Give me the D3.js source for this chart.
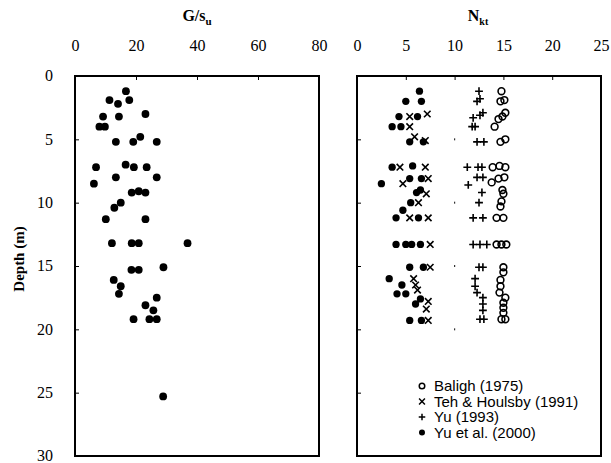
<!DOCTYPE html>
<html>
<head>
<meta charset="utf-8">
<script src="https://cdn.jsdelivr.net/npm/d3@7"></script>
<style>
  html, body { margin: 0; padding: 0; background: #fff; }
  svg { display: block; }
  .tick text { font-family: "Liberation Serif", "Times New Roman", serif; font-size: 16px; fill: #000; }
</style>
</head>
<body>
<svg id="chart" width="611" height="463"></svg>
<script>
// Shear modulus ratio G/su against depth: [G/su, depth (m)]
const gsuPoints = [
  [16.7, 1.2], [11.3, 1.9], [14.1, 2.2], [17.8, 1.9], [23.1, 3.0], [9.2, 3.2], [14.4, 3.2],
  [9.8, 4.0], [8.0, 4.0], [13.4, 5.2], [19.1, 5.2], [21.4, 4.8], [26.8, 5.2],
  [6.9, 7.2], [16.6, 7.0], [19.3, 7.2], [23.5, 7.2], [13.4, 8.0], [26.8, 8.0], [6.2, 8.5],
  [18.6, 9.2], [23.1, 9.2], [20.9, 9.1], [15.0, 10.0], [12.9, 10.4], [10.1, 11.3], [23.1, 11.3],
  [12.1, 13.2], [20.9, 13.2], [18.6, 13.2], [36.9, 13.2],
  [18.5, 15.3], [20.9, 15.3], [29.0, 15.1], [12.7, 16.1], [15.0, 16.6], [14.4, 17.2],
  [26.8, 17.5], [23.1, 18.1], [25.7, 18.5], [19.2, 19.2], [24.4, 19.2], [26.8, 19.2],
  [28.9, 25.3]
];

// Cone factor Nkt against depth: [Nkt, depth (m)]
const baligh1975 = [
  [14.8, 1.2], [14.7, 2.0], [15.1, 1.9], [14.5, 3.4], [14.9, 3.2], [15.2, 2.9], [14.1, 4.0],
  [14.7, 5.2], [15.2, 5.0], [13.9, 7.2], [14.6, 7.1], [15.2, 7.2], [13.8, 8.4], [14.5, 8.1],
  [15.1, 8.0], [14.9, 9.0], [15.0, 9.3], [14.8, 9.9], [14.7, 10.3], [14.3, 11.2], [15.0, 11.2],
  [14.3, 13.3], [14.8, 13.3], [15.3, 13.3], [15.0, 15.1], [15.0, 15.5], [14.7, 16.1],
  [14.7, 16.6], [14.6, 17.1], [15.2, 17.5], [15.0, 17.9], [15.0, 18.3], [15.0, 18.7],
  [14.8, 19.2], [15.2, 19.2]
];
const tehHoulsby1991 = [
  [5.4, 3.2], [7.2, 3.0], [5.4, 4.0], [5.9, 4.8], [7.0, 5.1], [4.4, 7.2], [7.0, 7.2],
  [4.7, 8.5], [7.3, 8.1], [7.1, 9.3], [6.3, 10.0], [5.4, 11.2], [7.3, 11.2], [7.5, 13.3],
  [7.5, 15.1], [5.8, 16.0], [6.0, 16.5], [6.2, 16.9], [7.3, 17.8], [7.1, 18.4], [7.3, 19.3]
];
const yu1993 = [
  [12.5, 1.2], [12.3, 2.0], [12.6, 1.8], [11.9, 3.3], [12.6, 3.1], [12.9, 2.9], [11.8, 4.0],
  [12.1, 4.0], [12.3, 5.2], [13.0, 5.2], [11.3, 7.2], [12.4, 7.2], [12.8, 7.2], [11.4, 8.6],
  [12.3, 8.0], [12.9, 8.0], [12.8, 9.2], [12.5, 10.0], [11.9, 11.2], [12.9, 11.2],
  [11.9, 13.3], [12.6, 13.3], [13.3, 13.3], [12.5, 15.1], [12.9, 15.1], [12.1, 16.0],
  [12.1, 16.6], [12.3, 17.1], [12.9, 17.5], [12.9, 18.0], [12.9, 18.5], [12.6, 19.2], [13.0, 19.2]
];
const yuEtAl2000 = [
  [6.4, 1.2], [5.0, 2.0], [6.6, 2.0], [4.3, 3.2], [6.2, 3.2], [3.6, 4.0], [4.5, 4.0],
  [5.4, 5.2], [6.8, 5.2], [3.6, 7.2], [5.7, 7.1], [2.5, 8.5], [5.4, 8.1], [6.6, 8.1],
  [6.5, 9.0], [6.1, 9.2], [5.5, 10.0], [4.7, 10.6], [4.0, 11.2], [6.3, 11.2],
  [4.0, 13.3], [5.0, 13.3], [5.6, 13.3], [6.5, 13.3], [5.4, 15.1], [6.8, 15.1],
  [3.3, 16.0], [4.6, 16.5], [4.1, 17.2], [5.0, 17.2], [6.5, 17.6], [6.0, 18.0],
  [5.4, 19.3], [6.6, 19.3]
];

const gsuTicks = [0, 20, 40, 60, 80];
const nktTicks = [0, 5, 10, 15, 20, 25];
const depthTicks = [0, 5, 10, 15, 20, 25, 30];
const legendLabels = ["Baligh (1975)", "Teh & Houlsby (1991)", "Yu (1993)", "Yu et al. (2000)"];

const svg = d3.select("#chart");
const plotTop = 76, plotBottom = 456;

const y = d3.scaleLinear().domain([0, 30]).range([plotTop, plotBottom]);
const xG = d3.scaleLinear().domain([0, 80]).range([75, 319]);
const xN = d3.scaleLinear().domain([0, 25]).range([357, 601]);

function frame(x) {
  svg.append("rect")
    .attr("x", x.range()[0]).attr("y", plotTop)
    .attr("width", x.range()[1] - x.range()[0]).attr("height", plotBottom - plotTop)
    .attr("fill", "none").attr("stroke", "#000").attr("stroke-width", 2);
}

function topAxis(x, ticks) {
  const g = svg.append("g").attr("transform", `translate(0,${plotTop})`)
    .call(d3.axisTop(x).tickValues(ticks).tickSizeInner(-4).tickSizeOuter(0).tickPadding(25));
  g.select(".domain").remove();
  g.selectAll(".tick line").attr("stroke", "#000").attr("stroke-width", 1);
}

function leftAxis(x0, labels) {
  const g = svg.append("g").attr("transform", `translate(${x0},0)`)
    .call(d3.axisLeft(y).tickValues(depthTicks).tickSizeInner(-4).tickSizeOuter(0).tickPadding(22)
      .tickFormat(labels ? d3.format("d") : () => ""));
  g.select(".domain").remove();
  g.selectAll(".tick line").attr("stroke", "#000").attr("stroke-width", 1);
  g.selectAll(".tick text").attr("dy", "0.3em");
}

// Left panel: G/su
topAxis(xG, gsuTicks);
leftAxis(xG.range()[0], true);
frame(xG);

svg.append("g").selectAll("circle").data(gsuPoints).join("circle")
  .attr("cx", d => xG(d[0])).attr("cy", d => y(d[1])).attr("r", 3.9).attr("fill", "#000");

// Right panel: Nkt
topAxis(xN, nktTicks);
leftAxis(xN.range()[0], false);
frame(xN);

// faint reference marks at Nkt = 10
svg.append("g").selectAll("rect").data([5, 10, 15, 20]).join("rect")
  .attr("x", xN(10) - 0.6).attr("y", d => y(d) - 1).attr("width", 1.2).attr("height", 2)
  .attr("fill", "#333");

const symbols = {
  baligh: d3.symbol().type(d3.symbolCircle).size(36),
  teh: d3.symbol().type(d3.symbolTimes).size(30),
  yu93: d3.symbol().type(d3.symbolPlus).size(22),
  yu00: d3.symbol().type(d3.symbolCircle).size(42)
};

function series(data, key, filled) {
  svg.append("g").selectAll("path").data(data).join("path")
    .attr("transform", d => `translate(${xN(d[0])},${y(d[1])})`)
    .attr("d", symbols[key]())
    .attr("fill", filled ? "#000" : "none")
    .attr("stroke", filled ? "none" : "#000")
    .attr("stroke-width", 1.6);
}
series(baligh1975, "baligh", false);
series(yu1993, "yu93", false);
series(tehHoulsby1991, "teh", false);
series(yuEtAl2000, "yu00", true);

// Legend
const legendKeys = [["baligh", false, 24], ["teh", false, 24], ["yu93", false, 16], ["yu00", true, 28]];
const lg = svg.append("g");
legendKeys.forEach(([key, filled, size], i) => {
  const cy = 386 + i * 15.5;
  lg.append("path")
    .attr("transform", `translate(422,${cy})`)
    .attr("d", d3.symbol().type(symbols[key].type()).size(size)())
    .attr("fill", filled ? "#000" : "none")
    .attr("stroke", filled ? "none" : "#000").attr("stroke-width", 1.5);
  lg.append("text").attr("x", 434).attr("y", cy + 5)
    .attr("font-family", "'Liberation Sans', Arial, sans-serif").attr("font-size", 15)
    .text(legendLabels[i]);
});

// Titles
const t1 = svg.append("text").attr("x", 197).attr("y", 21).attr("text-anchor", "middle")
  .attr("font-family", "'Liberation Serif', serif").attr("font-weight", "bold").attr("font-size", 16);
t1.append("tspan").text("G/s");
t1.append("tspan").attr("dy", 4).attr("font-size", 11).text("u");

const t2 = svg.append("text").attr("x", 478).attr("y", 21).attr("text-anchor", "middle")
  .attr("font-family", "'Liberation Serif', serif").attr("font-weight", "bold").attr("font-size", 16);
t2.append("tspan").text("N");
t2.append("tspan").attr("dy", 4).attr("font-size", 10).text("kt");

svg.append("text")
  .attr("transform", "translate(24,259) rotate(-90)")
  .attr("text-anchor", "middle")
  .attr("font-family", "'Liberation Serif', serif").attr("font-weight", "bold").attr("font-size", 15)
  .text("Depth (m)");
</script>
</body>
</html>
